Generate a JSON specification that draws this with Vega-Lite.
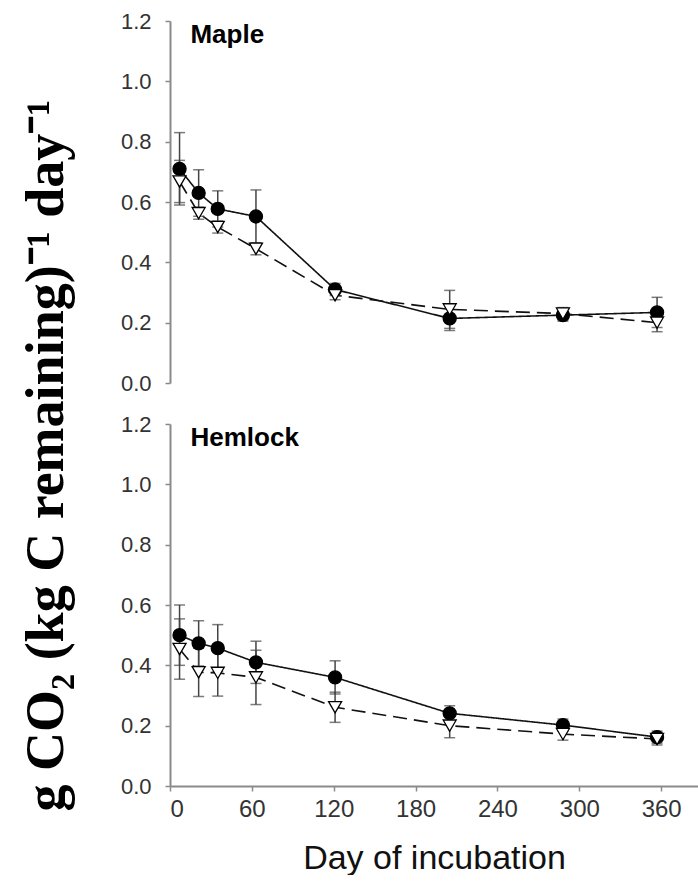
{
  "$schema": "https://vega.github.io/schema/vega-lite/v6.json",
  "padding": {"left": 20, "top": 10, "right": 0, "bottom": 0},
  "background": "white",
  "title": {"text": "g CO₂ (kg C remaining)⁻¹ day⁻¹", "orient": "left", "anchor": "middle", "font": "Liberation Serif", "fontSize": 54, "fontWeight": "bold", "color": "black", "offset": 46, "dx": -13},
  "config": {
    "view": {"stroke": null},
    "font": "Liberation Sans",
    "axis": {"grid": false, "domainColor": "#8a8a8a", "domainWidth": 2, "tickColor": "#8a8a8a", "tickWidth": 1.5, "labelFont": "Liberation Sans", "labelColor": "#333", "titleFont": "Liberation Sans", "titleColor": "#111"}
  },
  "data": {"values": [
    {"panel": "Maple", "series": "Filled", "day": 7, "value": 0.71, "err": 0.12},
    {"panel": "Maple", "series": "Filled", "day": 21, "value": 0.63, "err": 0.077},
    {"panel": "Maple", "series": "Filled", "day": 35, "value": 0.577, "err": 0.06},
    {"panel": "Maple", "series": "Filled", "day": 63, "value": 0.552, "err": 0.088},
    {"panel": "Maple", "series": "Filled", "day": 121, "value": 0.31, "err": 0.02},
    {"panel": "Maple", "series": "Filled", "day": 205, "value": 0.214, "err": 0.04},
    {"panel": "Maple", "series": "Filled", "day": 288, "value": 0.225, "err": 0.02},
    {"panel": "Maple", "series": "Filled", "day": 357, "value": 0.234, "err": 0.05},
    {"panel": "Maple", "series": "Open", "day": 7, "value": 0.668, "err": 0.07},
    {"panel": "Maple", "series": "Open", "day": 21, "value": 0.563, "err": 0.02},
    {"panel": "Maple", "series": "Open", "day": 35, "value": 0.517, "err": 0.02},
    {"panel": "Maple", "series": "Open", "day": 63, "value": 0.445, "err": 0.02},
    {"panel": "Maple", "series": "Open", "day": 121, "value": 0.291, "err": 0.015},
    {"panel": "Maple", "series": "Open", "day": 205, "value": 0.244, "err": 0.063},
    {"panel": "Maple", "series": "Open", "day": 288, "value": 0.23, "err": 0.02},
    {"panel": "Maple", "series": "Open", "day": 357, "value": 0.2, "err": 0.03},
    {"panel": "Hemlock", "series": "Filled", "day": 7, "value": 0.5, "err": 0.1},
    {"panel": "Hemlock", "series": "Filled", "day": 21, "value": 0.473, "err": 0.075},
    {"panel": "Hemlock", "series": "Filled", "day": 35, "value": 0.457, "err": 0.078},
    {"panel": "Hemlock", "series": "Filled", "day": 63, "value": 0.41, "err": 0.07},
    {"panel": "Hemlock", "series": "Filled", "day": 121, "value": 0.36, "err": 0.055},
    {"panel": "Hemlock", "series": "Filled", "day": 205, "value": 0.241, "err": 0.025},
    {"panel": "Hemlock", "series": "Filled", "day": 288, "value": 0.202, "err": 0.02},
    {"panel": "Hemlock", "series": "Filled", "day": 357, "value": 0.162, "err": 0.02},
    {"panel": "Hemlock", "series": "Open", "day": 7, "value": 0.454, "err": 0.1},
    {"panel": "Hemlock", "series": "Open", "day": 21, "value": 0.377, "err": 0.08},
    {"panel": "Hemlock", "series": "Open", "day": 35, "value": 0.375, "err": 0.077},
    {"panel": "Hemlock", "series": "Open", "day": 63, "value": 0.36, "err": 0.09},
    {"panel": "Hemlock", "series": "Open", "day": 121, "value": 0.261, "err": 0.05},
    {"panel": "Hemlock", "series": "Open", "day": 205, "value": 0.2, "err": 0.04},
    {"panel": "Hemlock", "series": "Open", "day": 288, "value": 0.172, "err": 0.02},
    {"panel": "Hemlock", "series": "Open", "day": 357, "value": 0.156, "err": 0.02}
  ]},
  "facet": {
    "row": {
      "field": "panel",
      "type": "nominal",
      "sort": ["Maple", "Hemlock"],
      "title": null,
      "header": {"labels": false, "title": null}
    }
  },
  "spacing": {"row": 41},
  "spec": {
    "width": 528,
    "height": 362,
    "encoding": {
      "x": {"field": "day", "type": "quantitative", "scale": {"domain": [0, 387], "nice": false},
        "axis": {"values": [0, 60, 120, 180, 240, 300, 360], "title": "Day of incubation", "labelFontSize": 24, "labelPadding": 6, "tickSize": 5, "titleFontSize": 34, "titleFontWeight": "normal", "titlePadding": 20}},
      "y": {"field": "value", "type": "quantitative", "scale": {"domain": [0, 1.2], "nice": false},
        "axis": {"values": [0, 0.2, 0.4, 0.6, 0.8, 1.0, 1.2], "format": ".1f", "title": null, "labelFontSize": 22, "labelPadding": 14, "tickSize": 5}}
    },
    "layer": [
      {
        "transform": [{"aggregate": [{"op": "count", "as": "n"}], "groupby": ["panel"]}],
        "mark": {"type": "rule", "color": "#8a8a8a", "strokeWidth": 2},
        "encoding": {"x": null, "y": {"datum": 0}}
      },
      {
        "mark": {"type": "line", "color": "#111", "strokeWidth": 1.6},
        "encoding": {
          "strokeDash": {"field": "series", "type": "nominal", "scale": {"domain": ["Filled", "Open"], "range": [[1, 0], [14, 7]]}, "legend": null}
        }
      },
      {
        "mark": {"type": "errorbar", "color": "#444", "thickness": 1.5, "ticks": {"size": 11, "color": "#444", "thickness": 1.5}},
        "encoding": {
          "y": {"field": "value", "type": "quantitative"},
          "yError": {"field": "err"},
          "detail": {"field": "series"}
        }
      },
      {
        "mark": {"type": "point", "filled": true, "stroke": "black", "strokeWidth": 1.3, "size": 170, "opacity": 1},
        "encoding": {
          "shape": {"field": "series", "type": "nominal", "scale": {"domain": ["Filled", "Open"], "range": ["circle", "triangle-down"]}, "legend": null},
          "fill": {"field": "series", "type": "nominal", "scale": {"domain": ["Filled", "Open"], "range": ["black", "white"]}, "legend": null}
        }
      },
      {
        "transform": [{"filter": "datum.series == 'Filled' && datum.day == 7"}],
        "mark": {"type": "text", "fontWeight": "bold", "fontSize": 26, "align": "left", "baseline": "middle", "fill": "black"},
        "encoding": {"x": {"datum": 15}, "y": {"datum": 1.155}, "text": {"field": "panel", "type": "nominal"}}
      }
    ]
  }
}
